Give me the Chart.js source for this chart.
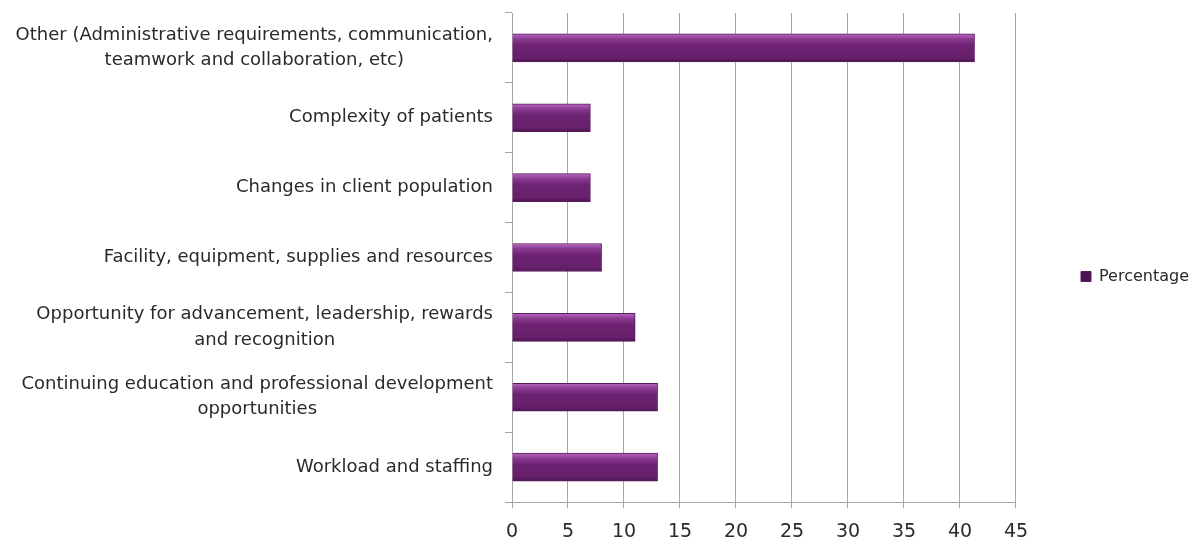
<!DOCTYPE html>
<html lang="en">
<head>
    <meta charset="UTF-8">
    <title>Percentage by category</title>
    <script src="https://cdn.jsdelivr.net/npm/chart.js"></script>
    <style>
        html, body { margin: 0; padding: 0; background: #fff; }
        #wrap { width: 1196px; height: 540px; }
    </style>
</head>
<body>
    <div id="wrap"><canvas id="chart" width="1196" height="540"></canvas></div>

    <script>
        // categories, top to bottom
        const categories = [
            ['Other (Administrative requirements, communication,', 'teamwork and collaboration, etc)'],
            'Complexity of patients',
            'Changes in client population',
            'Facility, equipment, supplies and resources',
            ['Opportunity for advancement, leadership, rewards', 'and recognition'],
            ['Continuing education and professional development', 'opportunities'],
            'Workload and staffing'
        ];
        const percentages = [41.3, 7, 7, 8, 11, 13, 13];
        const seriesName = 'Percentage';
        const xMin = 0, xMax = 45, xStep = 5;

        const FONT = '"DejaVu Sans", sans-serif';
        const LABEL_SIZE = 18;

        // shaded purple bar, built from the bar's own position
        function barFill(c) {
            const el = c.element;
            if (!el || el.y == null || !el.height) return '#6b2270';
            const g = c.chart.ctx.createLinearGradient(0, el.y - el.height / 2, 0, el.y + el.height / 2);
            g.addColorStop(0, '#b868c0');
            g.addColorStop(0.18, '#8c3c93');
            g.addColorStop(0.4, '#6d2372');
            g.addColorStop(0.85, '#67206b');
            g.addColorStop(1, '#4c1551');
            return g;
        }

        // two-line category labels: lines centred on each other, block kept right-aligned
        const centreMultiLine = {
            id: 'centreMultiLine',
            beforeDraw(chart) {
                const scale = chart.scales.y;
                const items = scale.getLabelItems(chart.chartArea);
                const ctx = chart.ctx;
                items.forEach(item => {
                    if (!Array.isArray(item.label)) return;
                    ctx.save();
                    ctx.font = item.font.string;
                    const w = Math.max(...item.label.map(l => ctx.measureText(l).width));
                    ctx.restore();
                    const right = item.options.translation[0];
                    item.options.translation = [right - w / 2, item.options.translation[1]];
                    item.options.textAlign = 'center';
                });
            }
        };

        Chart.defaults.font.family = FONT;
        Chart.defaults.color = '#2a2a2a';

        const chart = new Chart(document.getElementById('chart'), {
            type: 'bar',
            data: {
                labels: categories,
                datasets: [{
                    label: seriesName,
                    data: percentages,
                    backgroundColor: barFill,
                    borderColor: '#5a1a5f',
                    borderWidth: 1,
                    barThickness: 28
                }]
            },
            options: {
                indexAxis: 'y',
                responsive: false,
                animation: false,
                layout: { padding: { top: 13, right: -3, bottom: 0, left: 0 } },
                plugins: {
                    legend: {
                        position: 'right',
                        labels: {
                            boxWidth: 10,
                            boxHeight: 10,
                            padding: 65,
                            font: { size: 16 },
                            color: '#2a2a2a'
                        }
                    },
                    tooltip: { enabled: false }
                },
                scales: {
                    x: {
                        min: xMin,
                        max: xMax,
                        ticks: { stepSize: xStep, font: { size: 19 }, padding: 13, color: '#2a2a2a' },
                        grid: { color: '#a6a6a6', lineWidth: 1, tickLength: 6 },
                        border: { color: '#a6a6a6' },
                        afterFit: s => { s.height = 38; }
                    },
                    y: {
                        ticks: { font: { size: LABEL_SIZE, lineHeight: 1.4 }, padding: 12, color: '#2a2a2a' },
                        grid: { drawOnChartArea: false, color: '#a6a6a6', tickLength: 7, offset: true },
                        border: { color: '#a6a6a6' },
                        afterFit: s => { s.width = 512; s.paddingTop = 0; s.paddingBottom = 0; }
                    }
                }
            },
            plugins: [centreMultiLine]
        });
        // second pass so the gradient can use the bar positions
        chart.update();
    </script>
</body>
</html>
